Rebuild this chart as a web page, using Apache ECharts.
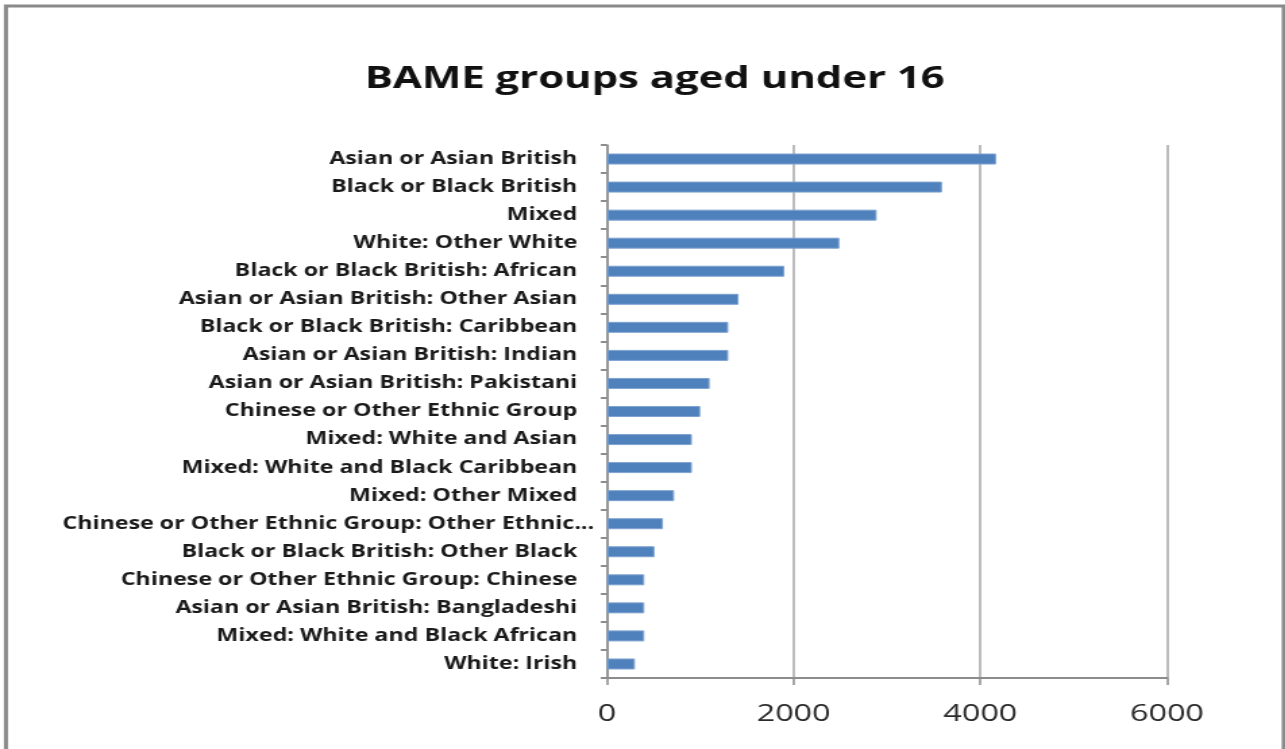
<!DOCTYPE html>
<html>
<head>
<meta charset="utf-8">
<script src="https://cdn.jsdelivr.net/npm/echarts@6/dist/echarts.min.js"></script>
<style>
  html, body { margin: 0; padding: 0; background: #fff; overflow: hidden; }
  /* the chart is laid out narrow and widened horizontally, giving the broad lettering */
  #chart {
    width: 952px;
    height: 749px;
    transform: scaleX(1.35);
    transform-origin: 0 0;
  }
</style>
</head>
<body>
<div id="chart"></div>
<script>
// Ethnic groups, listed top to bottom
const categories = [
  'Asian or Asian British',
  'Black or Black British',
  'Mixed',
  'White: Other White',
  'Black or Black British: African',
  'Asian or Asian British: Other Asian',
  'Black or Black British: Caribbean',
  'Asian or Asian British: Indian',
  'Asian or Asian British: Pakistani',
  'Chinese or Other Ethnic Group',
  'Mixed: White and Asian',
  'Mixed: White and Black Caribbean',
  'Mixed: Other Mixed',
  'Chinese or Other Ethnic Group: Other Ethnic...',
  'Black or Black British: Other Black',
  'Chinese or Other Ethnic Group: Chinese',
  'Asian or Asian British: Bangladeshi',
  'Mixed: White and Black African',
  'White: Irish'
];

// Number of under-16s in each group
const values = [4170, 3590, 2890, 2490, 1900, 1410, 1300, 1300, 1100, 1000, 910, 910, 720, 600, 510, 400, 400, 400, 300];

// Value axis ticks
const xTicks = [0, 2000, 4000, 6000];

const labelFont = {
  fontFamily: 'Open Sans',
  fontWeight: 'bold',
  fontSize: 17.2,
  color: '#1a1a1a'
};

const chart = echarts.init(document.getElementById('chart'));
chart.setOption({
  animation: false,
  backgroundColor: '#ffffff',
  title: {
    text: 'BAME groups aged under 16',
    left: 480,
    top: 59,
    textAlign: 'center',
    textStyle: {
      fontFamily: 'Open Sans',
      fontWeight: 'bold',
      fontSize: 31,
      color: '#111111'
    }
  },
  graphic: [{
    type: 'rect',
    shape: { x: 4.4, y: 6, width: 946.5, height: 760 },
    style: { fill: 'none', stroke: '#8a8a8a', lineWidth: 3 },
    silent: true
  }],
  grid: {
    left: 449.6,
    right: 87.6,
    top: 145,
    bottom: 71,
    containLabel: false
  },
  xAxis: {
    type: 'value',
    min: xTicks[0],
    max: xTicks[xTicks.length - 1],
    interval: 2000,
    axisLine: { show: true, lineStyle: { color: '#8c8c8c', width: 2 } },
    axisTick: { show: true, length: 7, lineStyle: { color: '#8c8c8c', width: 1.5 } },
    axisLabel: {
      margin: 24,
      fontFamily: 'Open Sans',
      fontSize: 24,
      color: '#2a2a2a',
      formatter: function (v) { return String(v); }
    },
    splitLine: { show: true, lineStyle: { color: '#a6a6a6', width: 1.5 } }
  },
  yAxis: {
    type: 'category',
    data: categories,
    inverse: true,
    axisLine: { show: true, lineStyle: { color: '#8c8c8c', width: 1.5 } },
    axisTick: { show: true, length: 4.5, lineStyle: { color: '#8c8c8c', width: 2 } },
    axisLabel: Object.assign({
      margin: 22,
      // a shortened name lets its ellipsis run past the right edge of the other labels
      formatter: function (name) {
        return name.endsWith('...') ? '{cut|' + name + '}' : name;
      },
      rich: {
        cut: Object.assign({ padding: [0, -12.5, 0, 0] }, labelFont)
      }
    }, labelFont)
  },
  series: [{
    type: 'bar',
    data: values,
    barWidth: 11,
    itemStyle: {
      color: '#4f81bd',
      borderColor: '#7fa3d0',
      borderWidth: 1
    }
  }]
});
</script>
</body>
</html>
